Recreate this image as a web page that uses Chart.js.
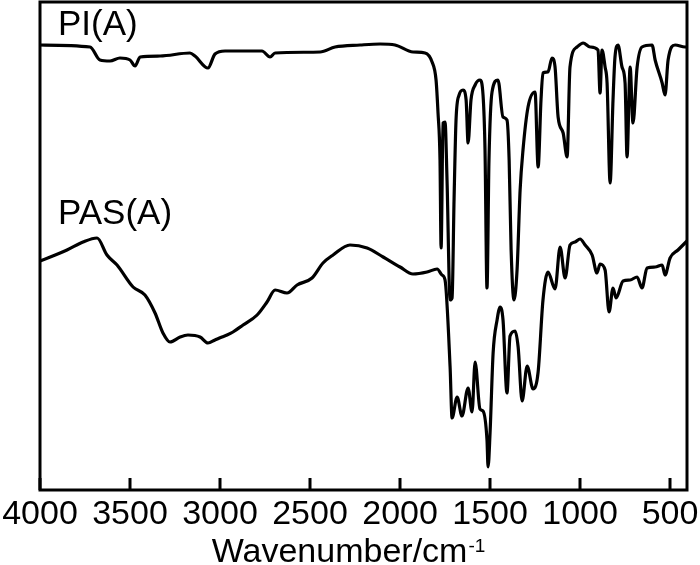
<!DOCTYPE html>
<html>
<head>
<meta charset="utf-8">
<script src="https://cdn.jsdelivr.net/npm/chart.js@4/dist/chart.umd.min.js"></script>
<style>
html,body{margin:0;padding:0;background:#fff;}
canvas{display:block;}
</style>
</head>
<body>
<canvas id="c" width="700" height="565"></canvas>
<script>
// Tick labels on the wavenumber axis
const xTicks = [4000, 3500, 3000, 2500, 2000, 1500, 1000, 500];
const seriesNames = ['PI(A)', 'PAS(A)'];
const axisTitle = 'Wavenumber/cm';
const axisTitleSup = '-1';

// PI(A) spectrum (arbitrary transmittance units, offset)
const piWavenumber = [4000,3722,3667,3611,3556,3500,3472,3444,3333,3167,3139,3067,3028,2972,2767,2722,2694,2444,2361,2222,2111,2028,1928,1861,1822,1800,1789,1778,1772,1761,1750,1739,1722,1711,1700,1689,1672,1650,1633,1622,1606,1583,1556,1539,1528,1517,1506,1489,1456,1428,1406,1394,1383,1367,1350,1333,1317,1289,1250,1233,1217,1206,1178,1156,1139,1122,1094,1072,1056,1017,983,944,900,889,878,861,850,833,817,806,789,767,750,739,722,706,683,656,600,583,544,528,511,472,417,406];
const piValue = [445,443,430,429,432,430,424,433,434,437,434,422,436,439,439,433,437,438,443,445,446,445,438,437,428,410,377,330,242,367,368,310,190,192,290,370,395,400,390,347,390,405,410,395,340,202,330,398,410,373,370,330,240,190,220,300,340,383,398,323,390,417,418,432,423,373,357,333,423,443,447,443,440,397,440,423,407,307,390,433,445,423,407,333,423,367,423,443,445,430,407,395,430,445,443,443];

// PAS(A) spectrum
const pasWavenumber = [4000,3850,3761,3683,3628,3572,3483,3417,3361,3317,3278,3222,3178,3111,3067,3028,2989,2961,2928,2872,2794,2739,2694,2628,2572,2489,2428,2372,2278,2183,2094,2000,1928,1850,1794,1767,1750,1722,1711,1683,1656,1622,1600,1583,1556,1539,1517,1511,1500,1483,1461,1444,1428,1406,1389,1361,1344,1322,1294,1261,1233,1206,1178,1139,1111,1083,1056,1028,1000,972,933,906,889,861,839,817,800,761,722,683,656,628,583,544,528,500,456,406];
const pasValue = [229,240,248,252,235,225,203,195,177,157,148,153,155,153,147,150,153,155,158,165,175,188,200,197,205,212,227,235,245,242,233,223,216,218,221,215,210,123,72,93,74,102,78,128,81,79,50,23,57,137,170,183,170,97,154,159,143,89,124,101,118,190,218,201,243,212,245,248,251,245,235,217,226,220,178,202,192,209,210,213,202,222,223,225,215,232,240,249];

const toPoints = (xs, ys) => xs.map((x, i) => ({x: x, y: ys[i]}));

const FONT = '"Liberation Sans", Arial, Helvetica, sans-serif';

const decor = {
  id: 'decor',
  afterDraw(chart) {
    const ctx = chart.ctx;
    const a = chart.chartArea;
    const xs = chart.scales.x;
    ctx.save();
    ctx.strokeStyle = '#000';
    ctx.fillStyle = '#000';
    ctx.lineWidth = 3;
    ctx.strokeRect(a.left, a.top, a.right - a.left, a.bottom - a.top);
    // inward tick marks
    for (const v of xTicks) {
      const px = xs.getPixelForValue(v);
      ctx.fillRect(Math.round(px) - 1.5, a.bottom - 12, 3, 12);
    }
    // series labels
    ctx.font = '35px ' + FONT;
    ctx.textBaseline = 'alphabetic';
    ctx.textAlign = 'left';
    ctx.fillText(seriesNames[0], 58, 35);
    ctx.fillText(seriesNames[1], 58, 224);
    // axis title with superscript
    ctx.font = '34px ' + FONT;
    const w1 = ctx.measureText(axisTitle).width;
    ctx.font = '19px ' + FONT;
    const w2 = ctx.measureText(axisTitleSup).width;
    const x0 = 348 - (w1 + w2) / 2;
    ctx.font = '34px ' + FONT;
    ctx.fillText(axisTitle, x0, 562);
    ctx.font = '19px ' + FONT;
    ctx.fillText(axisTitleSup, x0 + w1 + 1, 552);
    ctx.restore();
  }
};

new Chart(document.getElementById('c'), {
  type: 'line',
  data: {
    datasets: [
      {label: seriesNames[0], data: toPoints(piWavenumber, piValue), borderColor: '#000', borderWidth: 3.2, pointRadius: 0, fill: false, cubicInterpolationMode: 'monotone'},
      {label: seriesNames[1], data: toPoints(pasWavenumber, pasValue), borderColor: '#000', borderWidth: 3.2, pointRadius: 0, fill: false, cubicInterpolationMode: 'monotone'}
    ]
  },
  options: {
    responsive: false,
    animation: false,
    layout: {padding: {left: 40, right: 13, top: 2, bottom: 0}},
    plugins: {legend: {display: false}, tooltip: {enabled: false}},
    scales: {
      x: {
        type: 'linear',
        reverse: true,
        min: 406,
        max: 4000,
        afterBuildTicks: s => { s.ticks = xTicks.map(v => ({value: v})); },
        ticks: {font: {family: FONT, size: 34}, color: '#000', padding: 4, maxRotation: 0, autoSkip: false, callback: v => String(v)},
        grid: {display: false, drawTicks: false},
        border: {display: false},
        afterFit: s => { s.height = 75; s.paddingLeft = 0; s.paddingRight = 0; }
      },
      y: {display: false, min: 0, max: 488}
    }
  },
  plugins: [decor]
});
</script>
</body>
</html>
